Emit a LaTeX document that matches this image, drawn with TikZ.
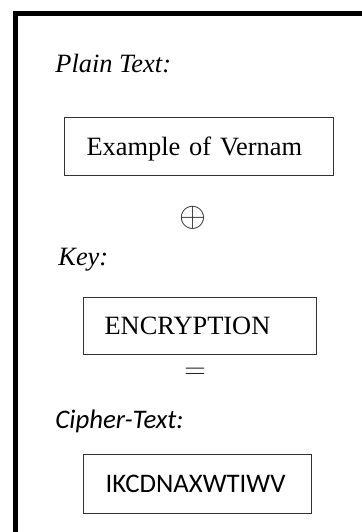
\documentclass[tikz,border=0pt]{standalone}
\usepackage{fontspec}
\setmainfont{Liberation Serif}
\newfontfamily\calibri{Carlito}
\usepackage{tikz}
\usetikzlibrary{positioning,calc}

\tikzset{
  textbox/.style={draw=black!80, line width=0.6pt, anchor=north west,
    inner ysep=0pt, text height=8.7pt, text depth=0pt, align=left},
  heading/.style={anchor=base west, inner sep=0pt, font=\fontsize{13.2}{15}\selectfont\itshape},
  sign/.style={inner sep=0pt, text=black!85},
}

\begin{document}
\begin{tikzpicture}[x=0.5pt, y=-0.5pt]
    \useasboundingbox (0,0) rectangle (362,532);
    \clip (0,0) rectangle (362,532);

    % frame (only top and left edges show)
    \draw [line width=2.5pt] (15.5, 560) -- (15.5, 13.5) -- (380, 13.5);

    \node [heading] (plainlbl) at (55, 72) {Plain Text:};
    \node [textbox, inner xsep=11pt, text width=112.5pt, minimum height=29pt,
           font=\fontsize{13.2}{15}\selectfont] (plain) at (64, 117) {Example of Vernam};

    \node [sign, font=\fontsize{18}{20}\selectfont] (xor) at (193, 218) {$\oplus$};

    \node [heading] (keylbl) at (58, 265) {Key:};
    \node [textbox, inner xsep=10.5pt, text width=95.5pt, minimum height=28.5pt,
           font=\fontsize{13.2}{15}\selectfont] (key) at (83, 297) {ENCRYPTION};

    \node [sign, font=\fontsize{13.5}{15}\selectfont] (eq) at (195, 373) {$=$};

    \node [heading, font=\calibri\fontsize{13.4}{15}\selectfont\itshape] (cipherlbl) at (55, 428) {Cipher-Text:};
    \node [textbox, inner xsep=11pt, text width=92pt, minimum height=29.5pt,
           font=\calibri\fontsize{13.4}{15}\selectfont] (cipher) at (83, 454) {IKCDNAXWTIWV};
\end{tikzpicture}
\end{document}
